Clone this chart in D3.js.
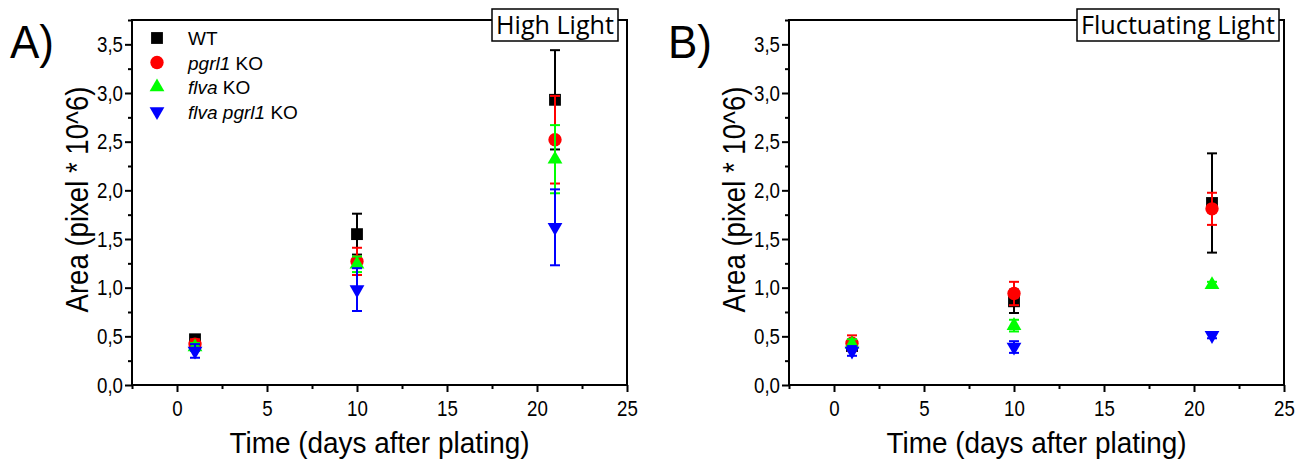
<!DOCTYPE html>
<html><head><meta charset="utf-8">
<script src="https://cdn.jsdelivr.net/npm/d3@7"></script>
<style>body{margin:0;background:#fff}svg{display:block}</style>
</head><body>
<svg id="c" width="1309" height="463"></svg>
<script>
// ---- data ----
const days = [1, 10, 21];
const seriesKeys = ["WT", "pgrl1", "flva", "flvapgrl1"];
const legendItalic = ["", "pgrl1", "flva", "flva pgrl1"];
const legendPlain = ["WT", " KO", " KO", " KO"];
const seriesColors = ["#000000", "#ff0000", "#00ff00", "#0000ff"];

const wtHL = [0.47, 1.55, 2.93],      wtHLErr = [0.03, 0.21, 0.51];
const pgrl1HL = [0.42, 1.27, 2.52],   pgrl1HLErr = [0.05, 0.14, 0.45];
const flvaHL = [0.39, 1.24, 2.32],    flvaHLErr = [0.04, 0.08, 0.35];
const dblHL = [0.35, 0.98, 1.62],     dblHLErr = [0.07, 0.22, 0.39];

const wtFL = [0.40, 0.86, 1.87],      wtFLErr = [0.04, 0.12, 0.51];
const pgrl1FL = [0.43, 0.94, 1.81],   pgrl1FLErr = [0.08, 0.12, 0.165];
const flvaFL = [0.42, 0.61, 1.03],    flvaFLErr = [0.05, 0.06, 0.03];
const dblFL = [0.35, 0.39, 0.51],     dblFLErr = [0.05, 0.06, 0.03];

const xTicks = [0, 5, 10, 15, 20, 25];
const yTicks = [0, 0.5, 1.0, 1.5, 2.0, 2.5, 3.0, 3.5];
const xTitle = "Time (days after plating)";
const yTitle = "Area (pixel * 10^6)";

// ---- drawing ----
const svg = d3.select("#c");
const FONT = "'Liberation Sans', Arial, Helvetica, sans-serif";

const panels = [
  {label: "A)", title: "High Light", left: 132, right: 627, labelX: 10,
   boxX: 492, boxW: 126, legend: true,
   vals: [wtHL, pgrl1HL, flvaHL, dblHL], errs: [wtHLErr, pgrl1HLErr, flvaHLErr, dblHLErr]},
  {label: "B)", title: "Fluctuating Light", left: 789, right: 1284, labelX: 668,
   boxX: 1077, boxW: 202, legend: false,
   vals: [wtFL, pgrl1FL, flvaFL, dblFL], errs: [wtFLErr, pgrl1FLErr, flvaFLErr, dblFLErr]}
];

const plotTop = 20, plotBottom = 385;
const symbols = [
  d3.symbol().type(d3.symbolSquare).size(140),
  d3.symbol().type(d3.symbolCircle).size(140),
  d3.symbol().type(d3.symbolTriangle).size(95),
  d3.symbol().type(d3.symbolTriangle).size(95)
];
const rot = [0, 0, 0, 180];
const fmt = d => d3.format(".1f")(d).replace(".", ",");

panels.forEach(p => {
  const x = d3.scaleLinear().domain([-2.5, 25]).range([p.left, p.right]);
  const y = d3.scaleLinear().domain([0, 3.75]).range([plotBottom, plotTop]);
  const g = svg.append("g");

  // frame
  g.append("rect").attr("x", p.left).attr("y", plotTop)
    .attr("width", p.right - p.left).attr("height", plotBottom - plotTop)
    .attr("fill", "none").attr("stroke", "#000").attr("stroke-width", 2);

  // x axis minor + major
  g.append("g").attr("transform", `translate(0,${plotBottom})`)
    .call(d3.axisBottom(x).tickValues(d3.range(-2.5, 25.01, 2.5).filter(v => v % 5 !== 0)).tickSize(4).tickFormat(""))
    .call(a => a.select(".domain").remove())
    .selectAll("line").attr("stroke-width", 2);
  const xa = g.append("g").attr("transform", `translate(0,${plotBottom})`)
    .call(d3.axisBottom(x).tickValues(xTicks).tickSize(7).tickPadding(8).tickFormat(d3.format("d")));
  xa.select(".domain").remove();
  xa.selectAll("line").attr("stroke-width", 2);
  xa.selectAll("text").attr("font-family", FONT).attr("font-size", 22).attr("fill", "#000")
    .attr("transform", "scale(0.85,1)");

  // y axis minor + major
  g.append("g").attr("transform", `translate(${p.left},0)`)
    .call(d3.axisLeft(y).tickValues(d3.range(0.25, 3.76, 0.5)).tickSize(4).tickFormat(""))
    .call(a => a.select(".domain").remove())
    .selectAll("line").attr("stroke-width", 2);
  const ya = g.append("g").attr("transform", `translate(${p.left},0)`)
    .call(d3.axisLeft(y).tickValues(yTicks).tickSize(7).tickPadding(2).tickFormat(fmt));
  ya.select(".domain").remove();
  ya.selectAll("line").attr("stroke-width", 2);
  ya.selectAll("text").attr("font-family", FONT).attr("font-size", 22).attr("fill", "#000")
    .attr("x", -9 / 0.85).attr("transform", "scale(0.85,1)");

  // titles
  g.append("text").attr("x", (p.left + p.right) / 2).attr("y", 453)
    .attr("text-anchor", "middle").attr("font-family", FONT).attr("font-size", 30)
    .attr("textLength", 300).attr("lengthAdjust", "spacingAndGlyphs").text(xTitle);
  g.append("text").attr("transform", `translate(${p.left - 44},${(plotTop + plotBottom) / 2 - 3}) rotate(-90)`)
    .attr("text-anchor", "middle").attr("font-family", FONT).attr("font-size", 32)
    .attr("textLength", 226).attr("lengthAdjust", "spacingAndGlyphs")
    .text(yTitle);

  // panel label
  g.append("text").attr("x", p.labelX).attr("y", 58).attr("font-family", FONT)
    .attr("font-size", 46).attr("textLength", 44).attr("lengthAdjust", "spacingAndGlyphs").text(p.label);

  // title box
  g.append("rect").attr("x", p.boxX).attr("y", 9).attr("width", p.boxW).attr("height", 32)
    .attr("fill", "#fff").attr("stroke", "#000").attr("stroke-width", 1.5);
  g.append("text").attr("x", p.boxX + p.boxW / 2).attr("y", 34).attr("text-anchor", "middle")
    .attr("font-family", "'Open Sans', 'Liberation Sans', sans-serif").attr("font-size", 25)
    .attr("textLength", p.boxW - 8).attr("lengthAdjust", "spacingAndGlyphs").text(p.title);

  // data
  seriesKeys.forEach((k, si) => {
    const col = seriesColors[si];
    const sg = g.append("g");
    days.forEach((d, i) => {
      const v = p.vals[si][i], e = p.errs[si][i];
      const cx = x(d);
      sg.append("line").attr("x1", cx).attr("x2", cx).attr("y1", y(v + e)).attr("y2", y(v - e))
        .attr("stroke", col).attr("stroke-width", 2);
      [v + e, v - e].forEach(t => {
        sg.append("line").attr("x1", cx - 5).attr("x2", cx + 5).attr("y1", y(t)).attr("y2", y(t))
          .attr("stroke", col).attr("stroke-width", 2);
      });
      sg.append("path").attr("d", symbols[si]())
        .attr("transform", `translate(${cx},${y(v)}) rotate(${rot[si]})`).attr("fill", col);
    });
  });

  // legend
  if (p.legend) {
    seriesKeys.forEach((k, si) => {
      const ly = 38 + si * 24.5;
      g.append("path").attr("d", symbols[si]())
        .attr("transform", `translate(157,${ly}) rotate(${rot[si]})`).attr("fill", seriesColors[si]);
      const t = g.append("text").attr("x", 188).attr("y", ly + 7)
        .attr("font-family", FONT).attr("font-size", 19);
      if (legendItalic[si]) t.append("tspan").attr("font-style", "italic").text(legendItalic[si]);
      t.append("tspan").text(legendPlain[si]);
    });
  }
});
</script>
</body></html>
